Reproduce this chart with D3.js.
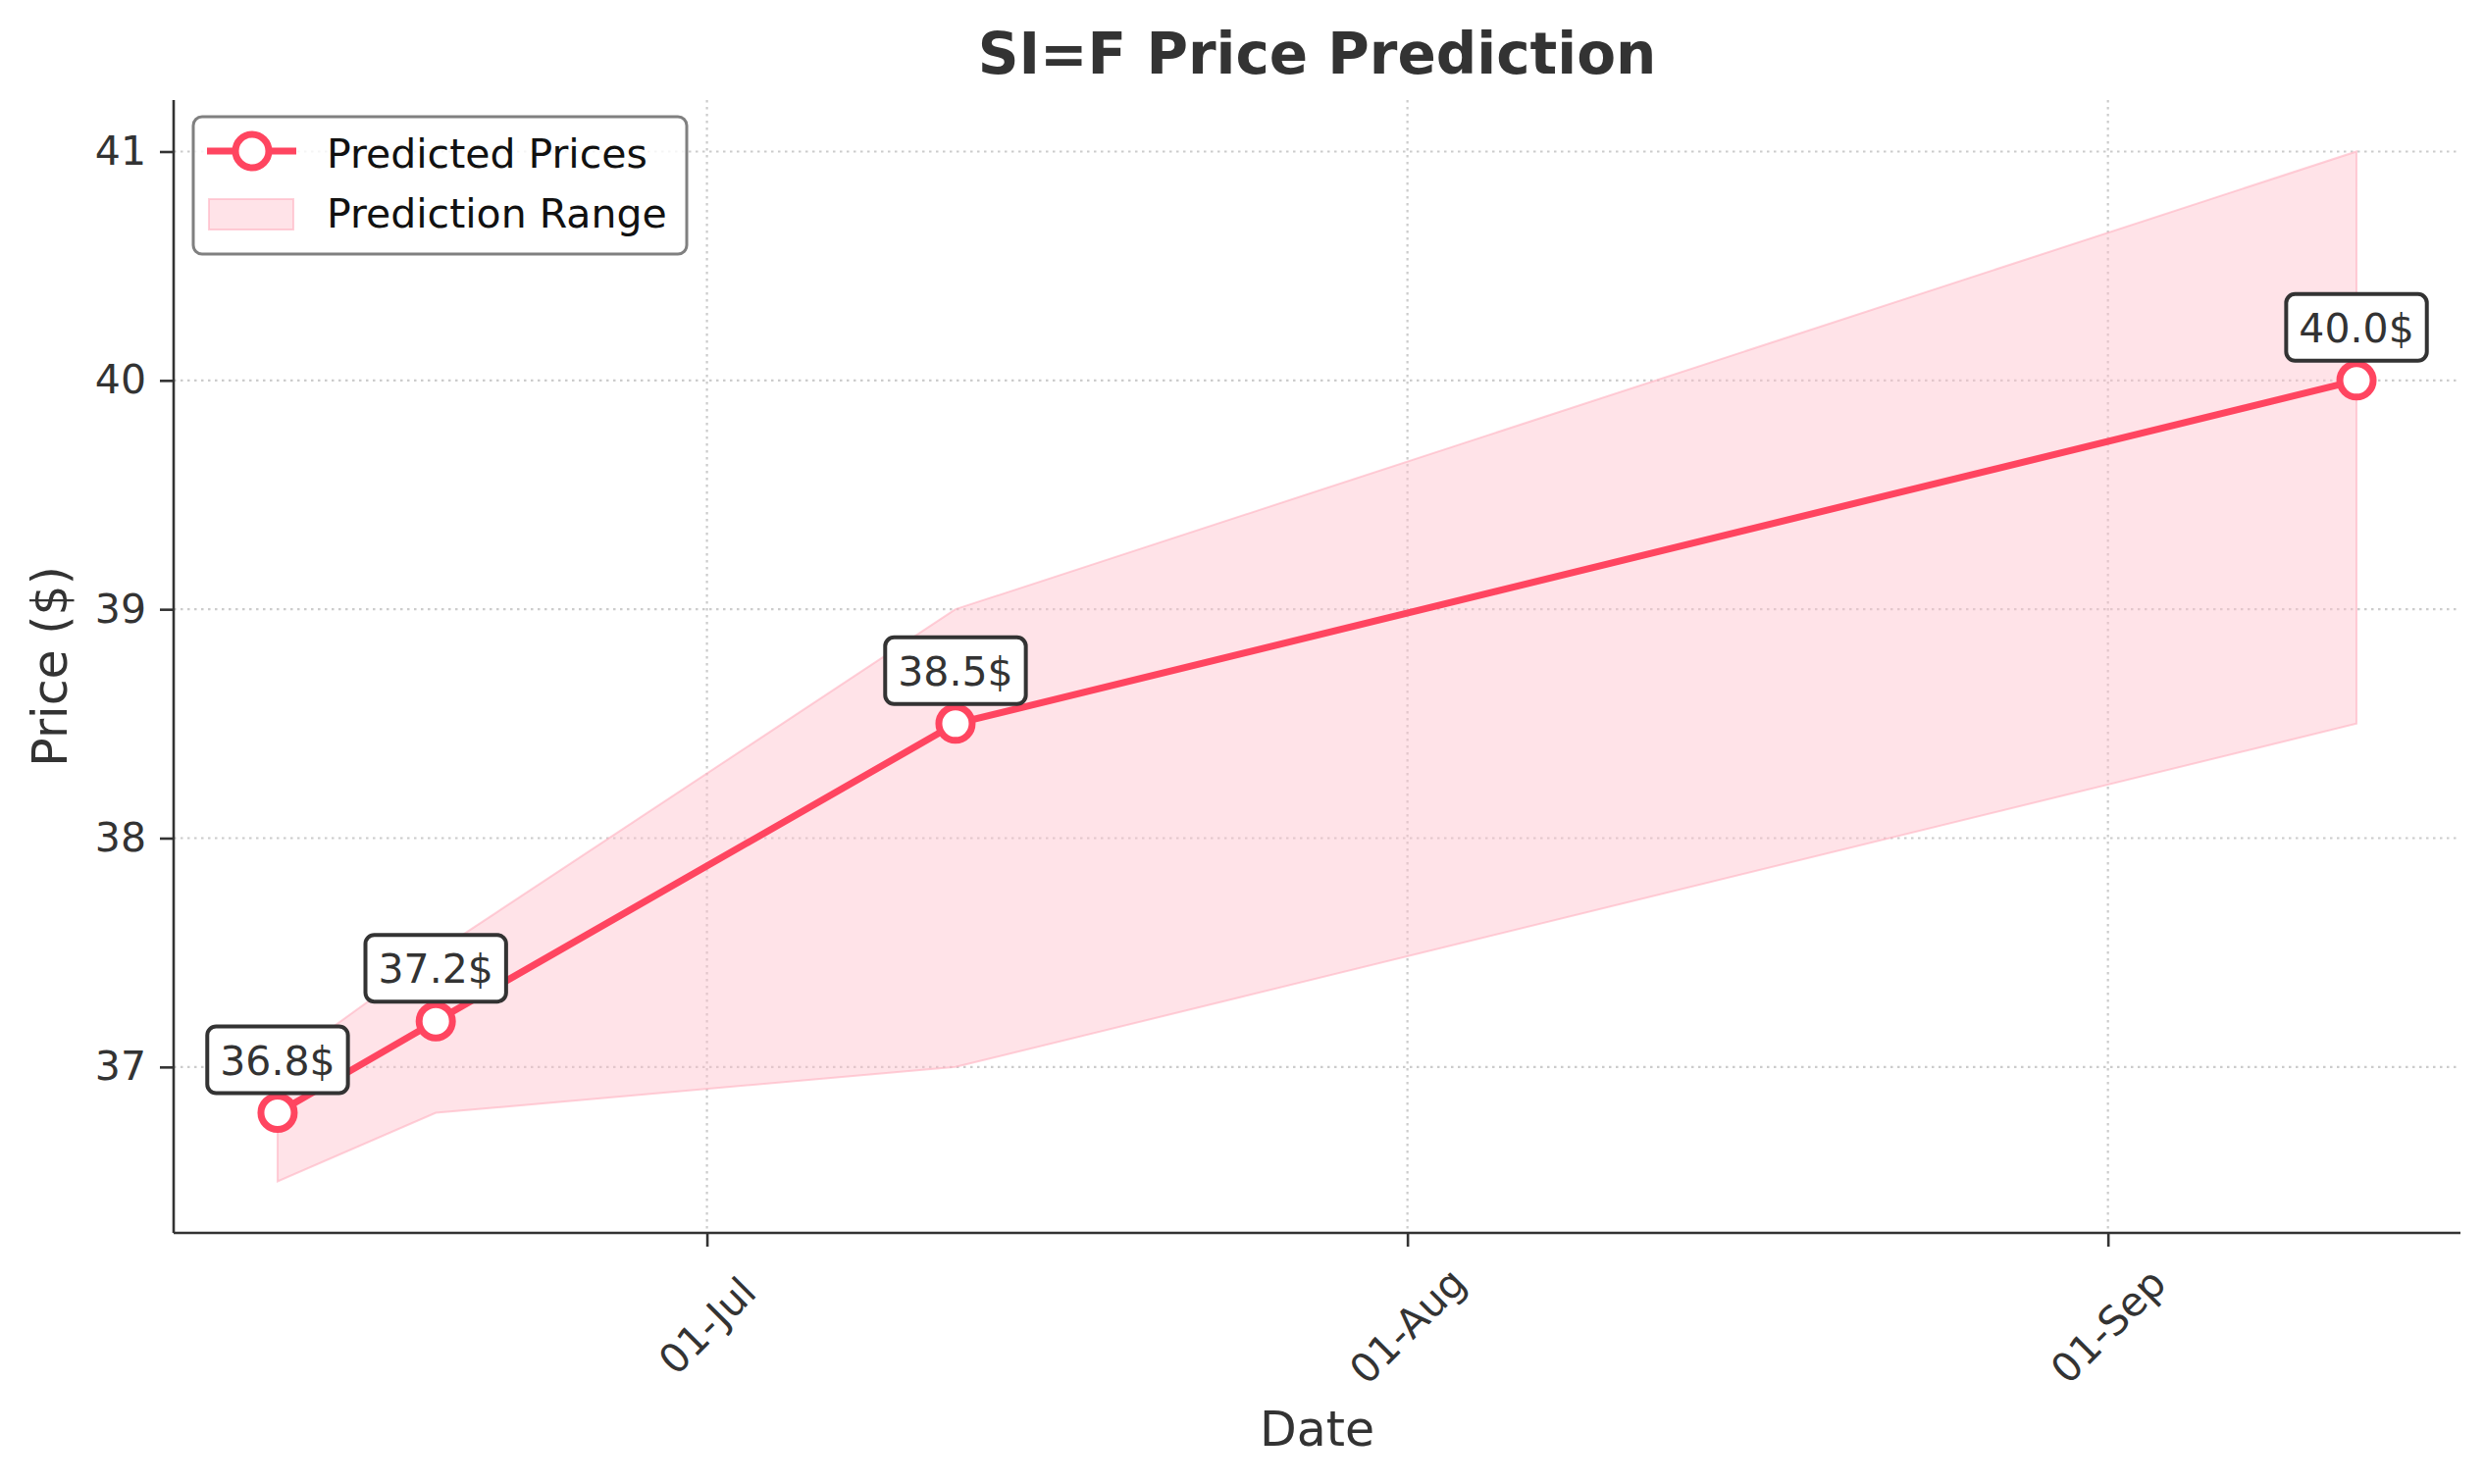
<!DOCTYPE html>
<html>
<head>
<meta charset="utf-8">
<script src="https://cdn.jsdelivr.net/npm/d3@7"></script>
<style>
  body { margin: 0; background: #fff; }
  text { font-family: "DejaVu Sans", sans-serif; }
</style>
</head>
<body>
<svg id="chart"></svg>
<script>
// SI=F price prediction chart
const dates = ["2025-06-12", "2025-06-19", "2025-07-12", "2025-09-12"];
const predicted = [36.8, 37.2, 38.5, 40.0];
const lowerBound = [36.5, 36.8, 37.0, 38.5];
const upperBound = [37.0, 37.5, 39.0, 41.0];
const yTicks = [37, 38, 39, 40, 41];
const xTickDates = ["2025-07-01", "2025-08-01", "2025-09-01"];

const config = {
    width: 2532,
    height: 1513,
    margin: {top: 102, right: 24, bottom: 256, left: 177}
};

const lineColor = '#ff4560';
const textColor = '#333333';

const parseDate = d3.timeParse('%Y-%m-%d');
const data = dates.map((d, i) => ({
    date: parseDate(d),
    price: predicted[i],
    low: lowerBound[i],
    high: upperBound[i]
}));

const innerW = config.width - config.margin.left - config.margin.right;
const innerH = config.height - config.margin.top - config.margin.bottom;

// matplotlib-like 5% padding around the data
const xExt = d3.extent(data, d => d.date);
const xPad = (xExt[1] - xExt[0]) * 0.05;
const yMin = d3.min(data, d => d.low);
const yMax = d3.max(data, d => d.high);
const yPad = (yMax - yMin) * 0.05;

const xScale = d3.scaleTime()
    .domain([new Date(+xExt[0] - xPad), new Date(+xExt[1] + xPad)])
    .range([0, innerW]);
const yScale = d3.scaleLinear()
    .domain([yMin - yPad, yMax + yPad])
    .range([innerH, 0]);

const svg = d3.select('#chart')
    .attr('width', config.width)
    .attr('height', config.height);

const chart = svg.append('g')
    .attr('transform', `translate(${config.margin.left},${config.margin.top})`);

// grid
const xTicks = xTickDates.map(parseDate);
chart.append('g')
    .selectAll('line.hgrid')
    .data(yTicks)
    .join('line')
    .attr('x1', 0).attr('x2', innerW)
    .attr('y1', d => yScale(d)).attr('y2', d => yScale(d))
    .attr('stroke', '#cccccc')
    .attr('stroke-width', 2.2)
    .attr('stroke-dasharray', '2.5,4.5');
chart.append('g')
    .selectAll('line.vgrid')
    .data(xTicks)
    .join('line')
    .attr('x1', d => xScale(d)).attr('x2', d => xScale(d))
    .attr('y1', 0).attr('y2', innerH)
    .attr('stroke', '#cccccc')
    .attr('stroke-width', 2.2)
    .attr('stroke-dasharray', '2.5,4.5');

// prediction range
const area = d3.area()
    .x(d => xScale(d.date))
    .y0(d => yScale(d.low))
    .y1(d => yScale(d.high));
chart.append('path')
    .datum(data)
    .attr('d', area)
    .attr('fill', '#ffc0cb')
    .attr('fill-opacity', 0.45)
    .attr('stroke', '#ffb0c0')
    .attr('stroke-opacity', 0.6)
    .attr('stroke-width', 2);

// predicted line
const line = d3.line()
    .x(d => xScale(d.date))
    .y(d => yScale(d.price));
chart.append('path')
    .datum(data)
    .attr('d', line)
    .attr('fill', 'none')
    .attr('stroke', lineColor)
    .attr('stroke-width', 7);

chart.append('g')
    .selectAll('circle')
    .data(data)
    .join('circle')
    .attr('cx', d => xScale(d.date))
    .attr('cy', d => yScale(d.price))
    .attr('r', 17)
    .attr('fill', '#fff')
    .attr('stroke', lineColor)
    .attr('stroke-width', 7);

// annotations
const ann = chart.append('g')
    .selectAll('g')
    .data(data)
    .join('g')
    .attr('transform', d => `translate(${xScale(d.date)},${yScale(d.price) - 54})`);
ann.append('rect')
    .attr('class', 'ann-box')
    .attr('y', -34)
    .attr('height', 68)
    .attr('rx', 9)
    .attr('fill', '#fff')
    .attr('stroke', textColor)
    .attr('stroke-width', 4);
ann.append('text')
    .attr('text-anchor', 'middle')
    .attr('y', 15)
    .attr('font-size', 41)
    .attr('fill', textColor)
    .text(d => d.price.toFixed(1) + '$');
ann.each(function() {
    const g = d3.select(this);
    const w = g.select('text').node().getComputedTextLength() + 26;
    g.select('rect').attr('x', -w / 2).attr('width', w);
});

// axes
const yAxis = d3.axisLeft(yScale)
    .tickValues(yTicks)
    .tickSize(14)
    .tickPadding(14)
    .tickFormat(d3.format('d'));
const yAxisG = chart.append('g').call(yAxis);

const xAxis = d3.axisBottom(xScale)
    .tickValues(xTicks)
    .tickSize(14)
    .tickFormat(d3.timeFormat('%d-%b'));
const xAxisG = chart.append('g')
    .attr('transform', `translate(0,${innerH})`)
    .call(xAxis);

[yAxisG, xAxisG].forEach(g => {
    g.select('.domain').attr('stroke', textColor).attr('stroke-width', 2.6);
    g.selectAll('.tick line').attr('stroke', textColor).attr('stroke-width', 2.6);
    g.selectAll('.tick text')
        .attr('fill', textColor)
        .attr('font-size', 41)
        .attr('font-family', '"DejaVu Sans", sans-serif');
});
yAxisG.select('.domain').attr('d', `M0,${innerH}V0`);
xAxisG.select('.domain').attr('d', `M0,0H${innerW}`);

xAxisG.selectAll('.tick text')
    .attr('y', null)
    .attr('dy', null)
    .attr('text-anchor', 'middle')
    .attr('dominant-baseline', 'central')
    .attr('transform', 'translate(0,95) rotate(-45)');

// axis titles
svg.append('text')
    .attr('x', config.margin.left + innerW / 2)
    .attr('y', 1474)
    .attr('text-anchor', 'middle')
    .attr('font-size', 49)
    .attr('fill', textColor)
    .text('Date');

svg.append('text')
    .attr('transform', `translate(68,${config.margin.top + innerH / 2}) rotate(-90)`)
    .attr('text-anchor', 'middle')
    .attr('font-size', 49)
    .attr('fill', textColor)
    .text('Price ($)');

svg.append('text')
    .attr('x', config.margin.left + innerW / 2)
    .attr('y', 75)
    .attr('text-anchor', 'middle')
    .attr('font-size', 58)
    .attr('font-weight', 'bold')
    .attr('fill', textColor)
    .text('SI=F Price Prediction');

// legend
const legend = svg.append('g').attr('transform', 'translate(197,119)');
legend.append('rect')
    .attr('width', 503)
    .attr('height', 140)
    .attr('rx', 9)
    .attr('fill', '#fff')
    .attr('fill-opacity', 0.8)
    .attr('stroke', '#808080')
    .attr('stroke-width', 3);
legend.append('line')
    .attr('x1', 14).attr('x2', 105)
    .attr('y1', 35).attr('y2', 35)
    .attr('stroke', lineColor)
    .attr('stroke-width', 7);
legend.append('circle')
    .attr('cx', 60).attr('cy', 35)
    .attr('r', 17)
    .attr('fill', '#fff')
    .attr('stroke', lineColor)
    .attr('stroke-width', 7);
legend.append('rect')
    .attr('x', 16).attr('y', 84)
    .attr('width', 86).attr('height', 31)
    .attr('fill', '#ffc0cb')
    .attr('fill-opacity', 0.45)
    .attr('stroke', '#ffb0c0')
    .attr('stroke-opacity', 0.6)
    .attr('stroke-width', 2);
legend.append('text')
    .attr('x', 136).attr('y', 52)
    .attr('font-size', 41)
    .attr('fill', '#111')
    .text('Predicted Prices');
legend.append('text')
    .attr('x', 136).attr('y', 113)
    .attr('font-size', 41)
    .attr('fill', '#111')
    .text('Prediction Range');
</script>
</body>
</html>
